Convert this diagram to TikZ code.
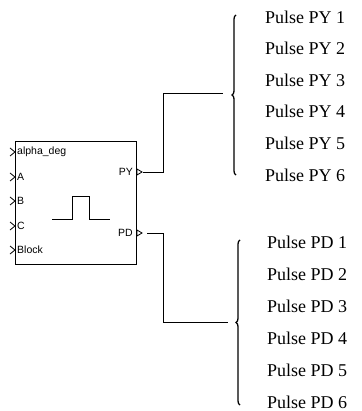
\documentclass[tikz,border=0pt]{standalone}
\usepackage{fontspec}
\newfontfamily\labelfont{Liberation Serif}
\newfontfamily\blockfont{Liberation Sans}
\usetikzlibrary{positioning, decorations.pathreplacing}

\begin{document}
\begin{tikzpicture}[
    x=1pt, y=-1pt,
    block/.style={rectangle, draw, line width=0.8pt, minimum width=121pt, minimum height=123pt, inner sep=0pt},
    port/.style={anchor=west, inner sep=0pt, font=\blockfont\fontsize{10.5}{10.5}\selectfont},
    pulselabel/.style={anchor=west, inner sep=0pt, font=\labelfont\fontsize{18}{18}\selectfont},
    wire/.style={line width=0.8pt},
    bracket/.style={line width=1.3pt, decorate, decoration={brace, amplitude=4pt}},
]
    \useasboundingbox (0,0) rectangle (361,411);

    % Block
    \node[block] (pulse) at (75.5,202.5) {};
    \draw[wire] (52,219) -- (72,219) -- (72,196) -- (89,196) -- (89,219) -- (110,219);

    % Inputs
    \foreach \name/\y in {alpha\_deg/152, A/177, B/201, C/226, Block/250}{
        \draw[wire] (10,\y-4) -- (15,\y) -- (10,\y+4);
        \node[port] at (17,\y) {\name};
    }

    % Outputs
    \node[port, anchor=east] (pylabel) at (133,172) {PY};
    \node[port, anchor=east] (pdlabel) at (133,233) {PD};
    \draw[wire] (137,169) -- (142,172) -- (137,175) -- cycle;
    \draw[wire] (137,230) -- (142,233) -- (137,236) -- cycle;
    \coordinate (pyout) at (143,172);
    \coordinate (pdout) at (147,233);

    % Braces
    \draw[bracket] (236,175) -- (236,15) coordinate[midway] (pymid);
    \draw[bracket] (240,405) -- (240,240) coordinate[midway] (pdmid);
    \coordinate (pytip) at (223,93);
    \coordinate (pdtip) at (228,322);

    % Wiring
    \draw[wire] (pyout) -- ++(20,0) |- (pytip);
    \draw[wire] (pdout) -- ++(16,0) |- (pdtip);

    % Labels
    \foreach \i in {1,...,6}{
        \node[pulselabel] (py\i) at (265,{17+31.6*(\i-1)}) {Pulse PY \i};
        \node[pulselabel] (pd\i) at (267,{242+32*(\i-1)}) {Pulse PD \i};
    }
\end{tikzpicture}
\end{document}
